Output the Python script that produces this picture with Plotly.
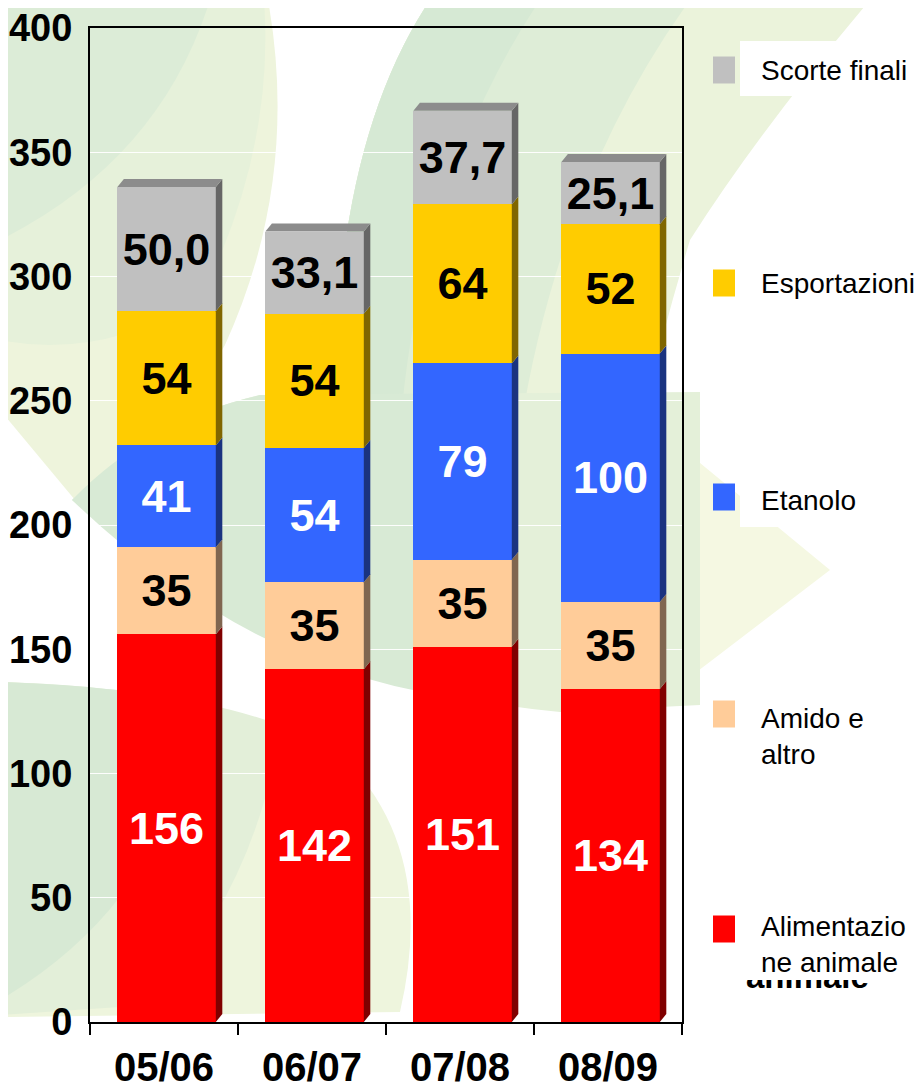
import plotly.graph_objects as go

# ---------------- data ----------------
categories = ['05/06', '06/07', '07/08', '08/09']
alimentazione_animale = [156, 142, 151, 134]
amido_e_altro = [35, 35, 35, 35]
etanolo = [41, 54, 79, 100]
esportazioni = [54, 54, 64, 52]
scorte_finali = [50.0, 33.1, 37.7, 25.1]

series_names = ['Alimentazione animale', 'Amido e altro', 'Etanolo', 'Esportazioni', 'Scorte finali']
legend_labels = ['Alimentazio<br>ne animale', 'Amido e<br>altro', 'Etanolo', 'Esportazioni', 'Scorte finali']
y_tick_values = [0, 50, 100, 150, 200, 250, 300, 350, 400]

# ---------------- styles ----------------
front_colors = ['#FF0000', '#FFCC99', '#3366FF', '#FFCC00', '#C0C0C0']
side_colors = ['#800000', '#806650', '#1A3380', '#806600', '#666666']
top_color = '#8C8C8C'
text_colors = ['white', 'black', 'white', 'black', 'black']

BOLDF = "Liberation Sans, Arial, sans-serif"
REG = "Liberation Sans, Arial, sans-serif"

OFF = 8  # default body margin of the page
W, H = 924 - 2 * OFF, 1090 - 2 * OFF
PL, PR, PT, PB = 90, 682, 28, 1022  # plot area in page pixels

BAR_WIDTH = 0.665
BAR_OFFSET = -0.315
DX = 0.044   # depth in category units
DY = 3.2     # depth in value units


def P(px, py):
    return (px - PL) / (PR - PL), (PB - py) / (PB - PT)


def make_path(cmds):
    out = []
    for c in cmds:
        op = c[0]
        pts = c[1:]
        s = op + ' ' + ' '.join('%.4f,%.4f' % P(*p) for p in pts)
        out.append(s)
    return ' '.join(out) + ' Z'


all_series = [alimentazione_animale, amido_e_altro, etanolo, esportazioni, scorte_finali]

fig = go.Figure()

# front faces
for k, vals in enumerate(all_series):
    if k == 4:
        labels = [('%.1f' % v).replace('.', ',') for v in vals]
    else:
        labels = ['%d' % v for v in vals]
    fig.add_trace(go.Bar(
        x=categories, y=vals, name=series_names[k],
        width=BAR_WIDTH, offset=BAR_OFFSET,
        marker=dict(color=front_colors[k], line=dict(width=0)),
        text=labels, textposition='inside', insidetextanchor='middle', textangle=0,
        textfont=dict(family=BOLDF, size=45, color=text_colors[k], weight='bold'),
        showlegend=False, hoverinfo='skip',
    ))

# side faces and top faces (3D effect), computed from the data
for i in range(len(categories)):
    base = 0.0
    x1 = i + BAR_OFFSET + BAR_WIDTH
    x0 = i + BAR_OFFSET
    for k, vals in enumerate(all_series):
        top = base + vals[i]
        fig.add_trace(go.Scatter(
            x=[x1, x1 + DX, x1 + DX, x1, x1],
            y=[base, base + DY, top + DY, top, base],
            xaxis='x2', yaxis='y', mode='lines', line=dict(width=0),
            fill='toself', fillcolor=side_colors[k],
            showlegend=False, hoverinfo='skip'))
        base = top
    fig.add_trace(go.Scatter(
        x=[x0, x0 + DX, x1 + DX, x1, x0],
        y=[base, base + DY, base + DY, base, base],
        xaxis='x2', yaxis='y', mode='lines', line=dict(width=0),
        fill='toself', fillcolor=top_color,
        showlegend=False, hoverinfo='skip'))

# ---------------- background decoration ----------------
shapes = []


def bg(cmds, color, opacity=1.0):
    shapes.append(dict(type='path', xref='paper', yref='paper', path=make_path(cmds),
                       fillcolor=color, opacity=opacity, line=dict(width=0), layer='below'))


# top-left leaf
bg([('M', (0, 0)), ('L', (268, 0)), ('Q', (300, 180), (225, 345)), ('L', (150, 470)),
    ('L', (75, 500)), ('L', (0, 410))], '#eef4dc')
bg([('M', (0, 0)), ('L', (264, 0)), ('Q', (275, 150), (200, 300)), ('Q', (100, 360), (0, 340))], '#e6f1da')
bg([('M', (0, 0)), ('L', (210, 0)), ('Q', (160, 160), (0, 240))], '#dcecd7')
# top-right leaf
bg([('M', (430, 0)), ('L', (870, 0)), ('Q', (760, 130), (690, 240)), ('Q', (660, 340), (640, 430)),
    ('L', (335, 430)), ('Q', (330, 150), (430, 0))], '#ebf3db')
bg([('M', (430, 0)), ('L', (690, 0)), ('Q', (560, 180), (520, 430)),
    ('L', (335, 430)), ('Q', (330, 150), (430, 0))], '#deedd7')
bg([('M', (430, 0)), ('L', (540, 0)), ('Q', (420, 180), (400, 430)),
    ('L', (335, 430)), ('Q', (330, 150), (430, 0))], '#d6e9d4')
# middle wedge
bg([('M', (660, 430)), ('L', (830, 570)), ('L', (660, 700))], '#f5f8e2')
bg([('M', (72, 500)), ('Q', (150, 420), (260, 395)), ('L', (700, 392)), ('L', (700, 705)),
    ('L', (560, 712)), ('Q', (300, 690), (72, 500))], '#e4f0d9')
bg([('M', (72, 500)), ('Q', (150, 420), (260, 395)), ('L', (480, 393)), ('L', (480, 700)),
    ('Q', (260, 680), (72, 500))], '#d8ead5')
# bottom-left leaf
bg([('M', (0, 682)), ('Q', (200, 690), (330, 745)), ('Q', (440, 840), (400, 1012)),
    ('L', (0, 1017))], '#eef5dd')
bg([('M', (0, 682)), ('Q', (180, 688), (280, 725)), ('Q', (260, 880), (150, 1005)),
    ('L', (0, 1015))], '#e3efd9')
bg([('M', (0, 682)), ('Q', (120, 685), (200, 705)), ('Q', (170, 900), (0, 1000))], '#d7e9d4')

# legend text boxes (white) and squares
legend_boxes = [(897, 980), (685, 775), (470, 527), (255, 311), (41, 96)]
for k in range(5):
    y0, y1 = legend_boxes[k]
    xa, ya = P(740, y1)
    xb, yb = P(930, y0)
    shapes.append(dict(type='rect', xref='paper', yref='paper', x0=xa, y0=ya, x1=xb, y1=yb,
                       fillcolor='white', line=dict(width=0), layer='above'))

legend_sq_y = [929, 714, 497, 283, 70]  # centres in page pixels (bottom series first)
for k in range(5):
    cy = legend_sq_y[k]
    xa, ya = P(713, cy + 13.5)
    xb, yb = P(735, cy - 13.5)
    shapes.append(dict(type='rect', xref='paper', yref='paper', x0=xa, y0=ya, x1=xb, y1=yb,
                       fillcolor=front_colors[k], line=dict(width=0), layer='above'))

# ---------------- legend text ----------------
annotations = []
legend_text_y = [944.5, 736, 500, 283, 70]
for k in range(5):
    tx, ty = P(759, legend_text_y[k])
    annotations.append(dict(xref='paper', yref='paper', x=tx, y=ty, text=legend_labels[k],
                            showarrow=False, xanchor='left', yanchor='middle', align='left',
                            font=dict(family=REG, size=28, color='black')))

# ghost text: only the lower part of a bold word shows under the last legend box
gx, gy = P(807, 996)
annotations.append(dict(xref='paper', yref='paper', x=gx, y=gy, text='animale', showarrow=False,
                        font=dict(family=REG, size=33, color='black', weight='bold'),
                        xanchor='center', yanchor='bottom', valign='bottom', height=15,
                        borderpad=0))

fig.update_layout(
    width=W, height=H,
    margin=dict(l=PL - OFF, r=W - (PR - OFF), t=PT - OFF, b=H - (PB - OFF), autoexpand=False),
    paper_bgcolor='white', plot_bgcolor='rgba(0,0,0,0)',
    barmode='stack', bargap=0.3,
    showlegend=False,
    shapes=shapes, annotations=annotations,
    uniformtext=dict(minsize=45, mode='show'),
    xaxis=dict(type='category', categoryorder='array', categoryarray=categories,
               range=[-0.5, 3.5], tickson='boundaries', ticks='outside', ticklen=11,
               tickwidth=1.5, tickcolor='black', showline=True, linecolor='black', linewidth=2,
               mirror=True, showgrid=False, ticklabelstandoff=9, ticklabeloverflow='allow',
               tickfont=dict(family=BOLDF, size=40, color='black', weight='bold')),
    xaxis2=dict(overlaying='x', range=[-0.5, 3.5], visible=False),
    yaxis=dict(range=[0, 400], tickvals=y_tick_values, ticks='', showline=True,
               linecolor='black', linewidth=2, mirror=True, showgrid=True,
               gridcolor='rgba(255,255,255,0.95)', gridwidth=1, zeroline=False,
               ticklabelstandoff=8, ticklabeloverflow='allow',
               tickfont=dict(family=BOLDF, size=38, color='black', weight='bold')),
    font=dict(family=REG),
)

fig.write_html("out.html")
